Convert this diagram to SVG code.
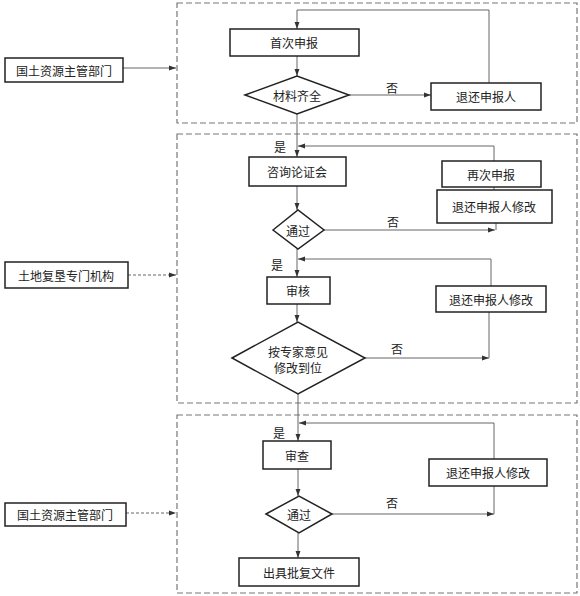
<svg xmlns="http://www.w3.org/2000/svg" width="580" height="596" viewBox="0 0 580 596">
<style>
.bg{fill:#fff}
.zone{fill:none;stroke:#777;stroke-width:1.2;stroke-dasharray:6,3}
.box{fill:#fff;stroke:#222;stroke-width:1.5}
.dia{fill:#fff;stroke:#222;stroke-width:1.5}
.t{font-family:"Noto Sans CJK SC","Noto Sans",sans-serif;font-size:12px;fill:#222;text-anchor:middle;dominant-baseline:central}
.lbl{font-family:"Noto Sans CJK SC","Noto Sans",sans-serif;font-size:12px;fill:#222;text-anchor:middle;dominant-baseline:central}
.ln{fill:none;stroke:#666;stroke-width:1}
.dl{fill:none;stroke:#666;stroke-width:1;stroke-dasharray:3,2}
</style>
<defs>
<marker id="ah" viewBox="0 0 10 10" refX="10" refY="5" markerWidth="7" markerHeight="7" orient="auto" markerUnits="userSpaceOnUse">
<path d="M0,1.5 L10,5 L0,8.5 Z" fill="#333"/>
</marker>
</defs>
<rect class="bg" x="0" y="0" width="580" height="596"/>
<g id="zones">
<rect class="zone" x="177" y="3" width="400" height="120"/>
<rect class="zone" x="177" y="134" width="400" height="269"/>
<rect class="zone" x="177" y="415" width="400" height="178"/>
</g>
<g id="connectors">
<line class="ln" x1="123" y1="68" x2="176" y2="68" marker-end="url(#ah)"/>
<line class="dl" x1="128" y1="275" x2="176" y2="275" marker-end="url(#ah)"/>
<line class="dl" x1="126" y1="513" x2="176" y2="513" marker-end="url(#ah)"/>
<polyline class="ln" points="489,83 489,10 297,10 297,29" marker-end="url(#ah)"/>
<line class="ln" x1="297" y1="56" x2="297" y2="76" marker-end="url(#ah)"/>
<line class="ln" x1="349" y1="95" x2="431" y2="95" marker-end="url(#ah)"/>
<line class="ln" x1="297" y1="114" x2="297" y2="157" marker-end="url(#ah)"/>
<polyline class="ln" points="494,161 494,146 298,146" marker-end="url(#ah)"/>
<line class="ln" x1="494" y1="187" x2="494" y2="190"/>
<line class="ln" x1="297" y1="186" x2="297" y2="210" marker-end="url(#ah)"/>
<line class="ln" x1="324" y1="230" x2="495" y2="230" marker-end="url(#ah)"/>
<line class="ln" x1="496" y1="223" x2="496" y2="230"/>
<line class="ln" x1="297" y1="249" x2="297" y2="277" marker-end="url(#ah)"/>
<polyline class="ln" points="491,286 491,259 298,259" marker-end="url(#ah)"/>
<line class="ln" x1="297" y1="304" x2="297" y2="322" marker-end="url(#ah)"/>
<line class="ln" x1="365" y1="358" x2="489" y2="358" marker-end="url(#ah)"/>
<line class="ln" x1="489" y1="312" x2="489" y2="358"/>
<line class="ln" x1="298" y1="394" x2="298" y2="441" marker-end="url(#ah)"/>
<polyline class="ln" points="494,459 494,423 299,423" marker-end="url(#ah)"/>
<line class="ln" x1="298" y1="469" x2="298" y2="496" marker-end="url(#ah)"/>
<line class="ln" x1="332" y1="514" x2="494" y2="514" marker-end="url(#ah)"/>
<line class="ln" x1="494" y1="486" x2="494" y2="514"/>
<line class="ln" x1="298" y1="533" x2="298" y2="558" marker-end="url(#ah)"/>
<text class="lbl" x="392" y="87">否</text>
<text class="lbl" x="280" y="146">是</text>
<text class="lbl" x="393" y="221">否</text>
<text class="lbl" x="277" y="264">是</text>
<text class="lbl" x="397" y="348">否</text>
<text class="lbl" x="279" y="432">是</text>
<text class="lbl" x="392" y="502">否</text>
</g>
<g id="n_left1"><rect class="box" x="5" y="58" width="118" height="24"/><text class="t" x="64" y="70">国土资源主管部门</text></g>
<g id="n_left2"><rect class="box" x="5" y="262" width="123" height="26"/><text class="t" x="66" y="275">土地复垦专门机构</text></g>
<g id="n_left3"><rect class="box" x="5" y="503" width="121" height="23"/><text class="t" x="65" y="514.5">国土资源主管部门</text></g>
<g id="n_first"><rect class="box" x="230" y="29" width="129" height="27"/><text class="t" x="294" y="42.5">首次申报</text></g>
<g id="n_check"><polygon class="dia" points="245,95 297,76 349,95 297,114"/><text class="t" x="297" y="95">材料齐全</text></g>
<g id="n_return1"><rect class="box" x="431" y="83" width="110" height="27"/><text class="t" x="486" y="96.5">退还申报人</text></g>
<g id="n_consult"><rect class="box" x="249" y="157" width="97" height="29"/><text class="t" x="297" y="171.5">咨询论证会</text></g>
<g id="n_resubmit"><rect class="box" x="442" y="161" width="99" height="26"/><text class="t" x="491" y="174">再次申报</text></g>
<g id="n_return2"><rect class="box" x="437" y="190" width="115" height="33"/><text class="t" x="494" y="206.5">退还申报人修改</text></g>
<g id="n_pass1"><polygon class="dia" points="273,230 298,210 324,230 298,249"/><text class="t" x="298" y="230">通过</text></g>
<g id="n_review"><rect class="box" x="267" y="277" width="63" height="27"/><text class="t" x="298" y="290.5">审核</text></g>
<g id="n_return3"><rect class="box" x="436" y="286" width="110" height="26"/><text class="t" x="491" y="299">退还申报人修改</text></g>
<g id="n_expert"><polygon class="dia" points="232,358 298,322 365,358 298,394"/><text class="t" x="298" y="351">按专家意见</text><text class="t" x="298" y="367">修改到位</text></g>
<g id="n_exam"><rect class="box" x="263" y="441" width="68" height="28"/><text class="t" x="297" y="455">审查</text></g>
<g id="n_return4"><rect class="box" x="429" y="459" width="118" height="27"/><text class="t" x="488" y="472.5">退还申报人修改</text></g>
<g id="n_pass2"><polygon class="dia" points="266,514 299,496 332,514 299,533"/><text class="t" x="299" y="514">通过</text></g>
<g id="n_issue"><rect class="box" x="239" y="558" width="120" height="28"/><text class="t" x="299" y="572">出具批复文件</text></g>
</svg>
